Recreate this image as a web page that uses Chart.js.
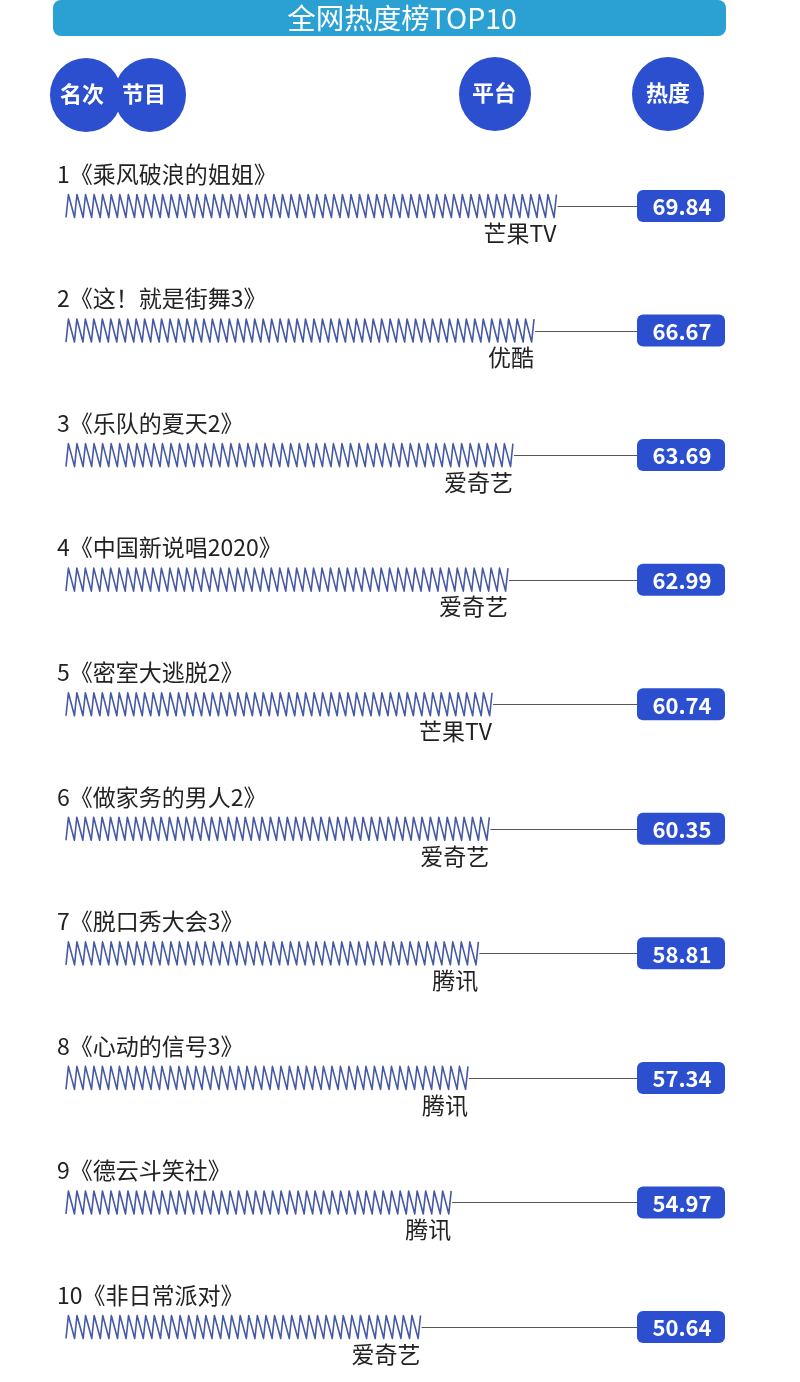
<!DOCTYPE html>
<html><head><meta charset="utf-8">
<script src="https://cdn.jsdelivr.net/npm/chart.js@4"></script>
<style>html,body{margin:0;padding:0;background:#fff}#wrap{width:800px;height:1382px;position:relative}</style>
</head><body><div id="wrap"><canvas id="c"></canvas></div>
<script>
const programs = ['乘风破浪的姐姐','这！就是街舞3','乐队的夏天2','中国新说唱2020','密室大逃脱2','做家务的男人2','脱口秀大会3','心动的信号3','德云斗笑社','非日常派对'];
const platforms = ['芒果TV','优酷','爱奇艺','爱奇艺','芒果TV','爱奇艺','腾讯','腾讯','腾讯','爱奇艺'];
const heat = [69.84,66.67,63.69,62.99,60.74,60.35,58.81,57.34,54.97,50.64];
const headers = ['名次','节目','平台','热度'];
const title = '全网热度榜TOP10';

const FONT = '"Noto Sans CJK SC","Noto Sans",sans-serif';
const BLUE = '#2b4fcf';

function rr(ctx,x,y,w,h,r){
  ctx.beginPath();
  ctx.moveTo(x+r,y);
  ctx.arcTo(x+w,y,x+w,y+h,r);
  ctx.arcTo(x+w,y+h,x,y+h,r);
  ctx.arcTo(x,y+h,x,y,r);
  ctx.arcTo(x,y,x+w,y,r);
  ctx.closePath();
}

const deco = {
  id:'deco',
  beforeDraw(chart){
    const ctx = chart.ctx;
    ctx.save();
    ctx.fillStyle = '#fff';
    ctx.fillRect(0,0,chart.width,chart.height);
    // title banner
    rr(ctx,53,0,673,36,8);
    ctx.fillStyle = '#2aa0d3';
    ctx.fill();
    ctx.fillStyle = '#fff';
    ctx.font = '28.5px ' + FONT;
    ctx.textAlign = 'center';
    ctx.textBaseline = 'middle';
    ctx.fillText(title, 402, 18);
    // header circles
    const circ = [[86,95],[150,95],[495,94],[668,94]];
    const tx = [82,144,494,668];
    circ.forEach((c,i)=>{
      ctx.beginPath();
      ctx.ellipse(c[0],c[1],36,37,0,0,Math.PI*2);
      ctx.fillStyle = BLUE;
      ctx.fill();
    });
    ctx.fillStyle = '#fff';
    ctx.font = 'bold 22px ' + FONT;
    headers.forEach((h,i)=>ctx.fillText(h, tx[i], circ[i][1]-1));
    ctx.restore();
  },
  afterDatasetsDraw(chart){
    const ctx = chart.ctx;
    const meta = chart.getDatasetMeta(0);
    ctx.save();
    meta.data.forEach((bar,i)=>{
      const {x,y,base,height} = bar.getProps(['x','y','base','height'],true);
      const top = y-height/2, bot = y+height/2;
      // zigzag spring
      const u = 2.4;
      const x0 = base+4, x1 = x;
      const n = Math.max(1, Math.round((x1-u-x0)/8.5));
      const p = (x1-u-x0)/n;
      ctx.beginPath();
      ctx.moveTo(x0,bot);
      for(let k=0;k<n;k++){
        const xs = x0+k*p;
        ctx.lineTo(xs+u, top);
        ctx.lineTo(xs+p, bot);
      }
      ctx.lineTo(x1, top);
      ctx.strokeStyle = '#4759a6';
      ctx.lineWidth = 1.6;
      ctx.lineJoin = 'round';
      ctx.stroke();
      // connector
      ctx.beginPath();
      ctx.moveTo(x1+1, Math.round(y)+0.5);
      ctx.lineTo(637, Math.round(y)+0.5);
      ctx.strokeStyle = '#555';
      ctx.lineWidth = 1;
      ctx.stroke();
      // value box
      rr(ctx,637,y-16,88,32,6);
      ctx.fillStyle = BLUE;
      ctx.fill();
      ctx.fillStyle = '#fff';
      ctx.font = 'bold 22px ' + FONT;
      ctx.textAlign = 'center';
      ctx.textBaseline = 'middle';
      ctx.fillText(heat[i].toFixed(2), 682, y+1);
      // program label
      ctx.fillStyle = '#222';
      ctx.font = '23px ' + FONT;
      ctx.textAlign = 'left';
      ctx.fillText((i+1) + '《' + programs[i] + '》', 57, y-32);
      // platform label
      ctx.textAlign = 'right';
      ctx.fillText(platforms[i], x1, y+27);
    });
    ctx.restore();
  }
};

new Chart(document.getElementById('c'), {
  type:'bar',
  data:{
    labels: programs,
    datasets:[{
      data: heat,
      backgroundColor:'rgba(0,0,0,0)',
      borderWidth:0,
      barThickness:23,
      clip:false
    }]
  },
  options:{
    indexAxis:'y',
    responsive:true,
    maintainAspectRatio:false,
    animation:false,
    events:[],
    layout:{padding:{left:62,right:30,top:206,bottom:55}},
    plugins:{legend:{display:false},tooltip:{enabled:false},title:{display:false}},
    scales:{
      x:{type:'linear',min:0,max:100,display:false},
      y:{type:'category',offset:false,display:false}
    }
  },
  plugins:[deco]
});
</script>
</body></html>
